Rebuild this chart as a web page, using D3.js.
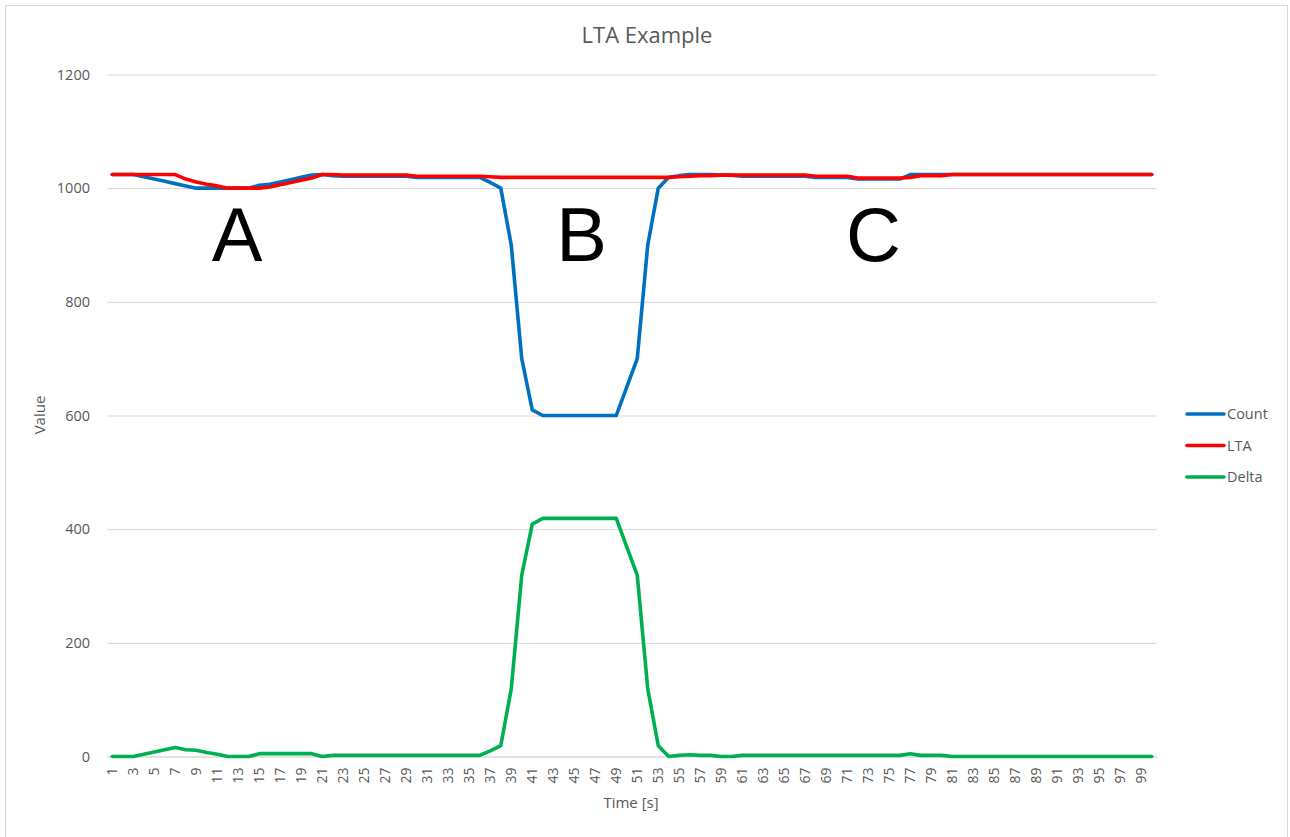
<!DOCTYPE html>
<html>
<head>
<meta charset="utf-8">
<script src="https://cdn.jsdelivr.net/npm/d3@7"></script>
<style>
  html, body { margin: 0; padding: 0; background: #ffffff; }
  svg { display: block; }
</style>
</head>
<body>
<svg id="chart" width="1290" height="837"></svg>
<script>
// ---------- data ----------
const categories = [
  1,2,3,4,5,6,7,8,9,10,11,12,13,14,15,16,17,18,19,20,
  21,22,23,24,25,26,27,28,29,30,31,32,33,34,35,36,37,38,39,40,
  41,42,43,44,45,46,47,48,49,50,51,52,53,54,55,56,57,58,59,60,
  61,62,63,64,65,66,67,68,69,70,71,72,73,74,75,76,77,78,79,80,
  81,82,83,84,85,86,87,88,89,90,91,92,93,94,95,96,97,98,99,100
];
const xTickLabels = [1,3,5,7,9,11,13,15,17,19,21,23,25,27,29,31,33,35,37,39,41,43,45,47,49,
  51,53,55,57,59,61,63,65,67,69,71,73,75,77,79,81,83,85,87,89,91,93,95,97,99];
const yTickValues = [0, 200, 400, 600, 800, 1000, 1200];

const countValues = [
  1024,1024,1024,1020,1016,1012,1008,1004,1000,1000,
  1000,1000,1000,1000,1005,1007,1011,1015,1019,1023,
  1024,1022,1021,1021,1021,1021,1021,1021,1021,1019,
  1019,1019,1019,1019,1019,1019,1010,1000,900,700,
  610,600,600,600,600,600,600,600,600,650,
  700,900,1000,1019,1022,1024,1024,1024,1023,1023,
  1021,1021,1021,1021,1021,1021,1021,1019,1019,1019,
  1019,1016,1016,1016,1016,1016,1024,1024,1024,1024,
  1024,1024,1024,1024,1024,1024,1024,1024,1024,1024,
  1024,1024,1024,1024,1024,1024,1024,1024,1024,1024
];
const ltaValues = [
  1024,1024,1024,1024,1024,1024,1024,1016,1011,1007,
  1004,1000,1000,1000,1000,1002,1006,1010,1014,1018,
  1024,1024,1023,1023,1023,1023,1023,1023,1023,1021,
  1021,1021,1021,1021,1021,1021,1020,1019,1019,1019,
  1019,1019,1019,1019,1019,1019,1019,1019,1019,1019,
  1019,1019,1019,1019,1020,1021,1022,1022,1023,1023,
  1023,1023,1023,1023,1023,1023,1023,1021,1021,1021,
  1021,1018,1018,1018,1018,1018,1019,1022,1022,1022,
  1024,1024,1024,1024,1024,1024,1024,1024,1024,1024,
  1024,1024,1024,1024,1024,1024,1024,1024,1024,1024
];
const deltaValues = [
  0,0,0,4,8,12,16,12,11,7,
  4,0,0,0,5,5,5,5,5,5,
  0,2,2,2,2,2,2,2,2,2,
  2,2,2,2,2,2,10,19,119,319,
  409,419,419,419,419,419,419,419,419,369,
  319,119,19,0,2,3,2,2,0,0,
  2,2,2,2,2,2,2,2,2,2,
  2,2,2,2,2,2,5,2,2,2,
  0,0,0,0,0,0,0,0,0,0,
  0,0,0,0,0,0,0,0,0,0
];
const seriesNames = ["Count", "LTA", "Delta"];
const seriesColors = ["#0070C0", "#FF0000", "#00B050"];
const annotations = [
  { label: "A", cat: 12.9 },
  { label: "B", cat: 45.7 },
  { label: "C", cat: 73.5 }
];

// ---------- layout ----------
const svg = d3.select("#chart");
const plot = { left: 107, right: 1157, top: 74.5, bottom: 756.5 };
const textColor = "#595959";
const gridColor = "#d9d9d9";
const uiFont = "'Open Sans', 'Liberation Sans', sans-serif";

svg.append("rect")
  .attr("x", 5.5).attr("y", 5.5)
  .attr("width", 1282).attr("height", 845)
  .attr("fill", "#fff").attr("stroke", gridColor).attr("stroke-width", 1);

const x = d3.scaleBand().domain(categories).range([plot.left, plot.right]).padding(0);
const xc = c => x(c) + x.bandwidth() / 2;
const xLin = d3.scaleLinear().domain([1, 100]).range([xc(1), xc(100)]);
const y = d3.scaleLinear().domain([0, 1200]).range([plot.bottom, plot.top]);

// gridlines
svg.append("g")
  .attr("transform", `translate(${plot.left},0)`)
  .call(d3.axisLeft(y).tickValues(yTickValues).tickSize(-(plot.right - plot.left)).tickFormat(""))
  .call(g => g.select(".domain").remove())
  .call(g => g.selectAll(".tick line").attr("stroke", gridColor).attr("stroke-width", 1));

// y axis labels
svg.append("g")
  .attr("transform", `translate(${plot.left},0)`)
  .call(d3.axisLeft(y).tickValues(yTickValues).tickSize(0).tickPadding(17).tickFormat(d3.format("d")))
  .call(g => g.select(".domain").remove())
  .call(g => g.selectAll(".tick text")
    .attr("fill", textColor).attr("font-family", uiFont).attr("font-size", 14.5));

// x axis
svg.append("g")
  .attr("transform", `translate(0,${plot.bottom})`)
  .call(d3.axisBottom(x).tickValues(xTickLabels).tickSize(0).tickSizeOuter(0))
  .call(g => g.select(".domain").attr("stroke", gridColor))
  .call(g => g.selectAll(".tick text")
    .attr("fill", textColor).attr("font-family", uiFont).attr("font-size", 14)
    .attr("transform", "rotate(-90)")
    .attr("text-anchor", "end")
    .attr("x", -11).attr("y", 0).attr("dy", "0.35em"));

// lines
const allSeries = [countValues, ltaValues, deltaValues];
const line = d3.line().x((d, i) => xc(categories[i])).y(d => y(d));
allSeries.forEach((vals, k) => {
  svg.append("path")
    .datum(vals)
    .attr("fill", "none")
    .attr("stroke", seriesColors[k])
    .attr("stroke-width", 3.6)
    .attr("stroke-linejoin", "round")
    .attr("stroke-linecap", "round")
    .attr("d", line);
});

// annotations
svg.append("g").selectAll("text")
  .data(annotations).join("text")
  .attr("x", d => xLin(d.cat))
  .attr("y", 261)
  .attr("text-anchor", "middle")
  .attr("font-family", "'Liberation Sans', Arial, sans-serif")
  .attr("font-size", 76)
  .attr("fill", "#000")
  .text(d => d.label);

// title
svg.append("text")
  .attr("x", 647).attr("y", 43)
  .attr("text-anchor", "middle")
  .attr("font-family", uiFont).attr("font-size", 22)
  .attr("fill", textColor)
  .text("LTA Example");

// axis titles
svg.append("text")
  .attr("transform", "translate(45,415) rotate(-90)")
  .attr("text-anchor", "middle")
  .attr("font-family", uiFont).attr("font-size", 15)
  .attr("fill", textColor)
  .text("Value");
svg.append("text")
  .attr("x", 631).attr("y", 808)
  .attr("text-anchor", "middle")
  .attr("font-family", uiFont).attr("font-size", 15)
  .attr("fill", textColor)
  .text("Time [s]");

// legend
const legend = svg.append("g");
const legendY = [414, 445.5, 477];
seriesNames.forEach((name, k) => {
  legend.append("line")
    .attr("x1", 1187).attr("x2", 1224)
    .attr("y1", legendY[k]).attr("y2", legendY[k])
    .attr("stroke", seriesColors[k]).attr("stroke-width", 3.6)
    .attr("stroke-linecap", "round");
  legend.append("text")
    .attr("x", 1227).attr("y", legendY[k])
    .attr("dy", "0.35em")
    .attr("font-family", uiFont).attr("font-size", 14.5)
    .attr("fill", textColor)
    .text(name);
});
</script>
</body>
</html>
